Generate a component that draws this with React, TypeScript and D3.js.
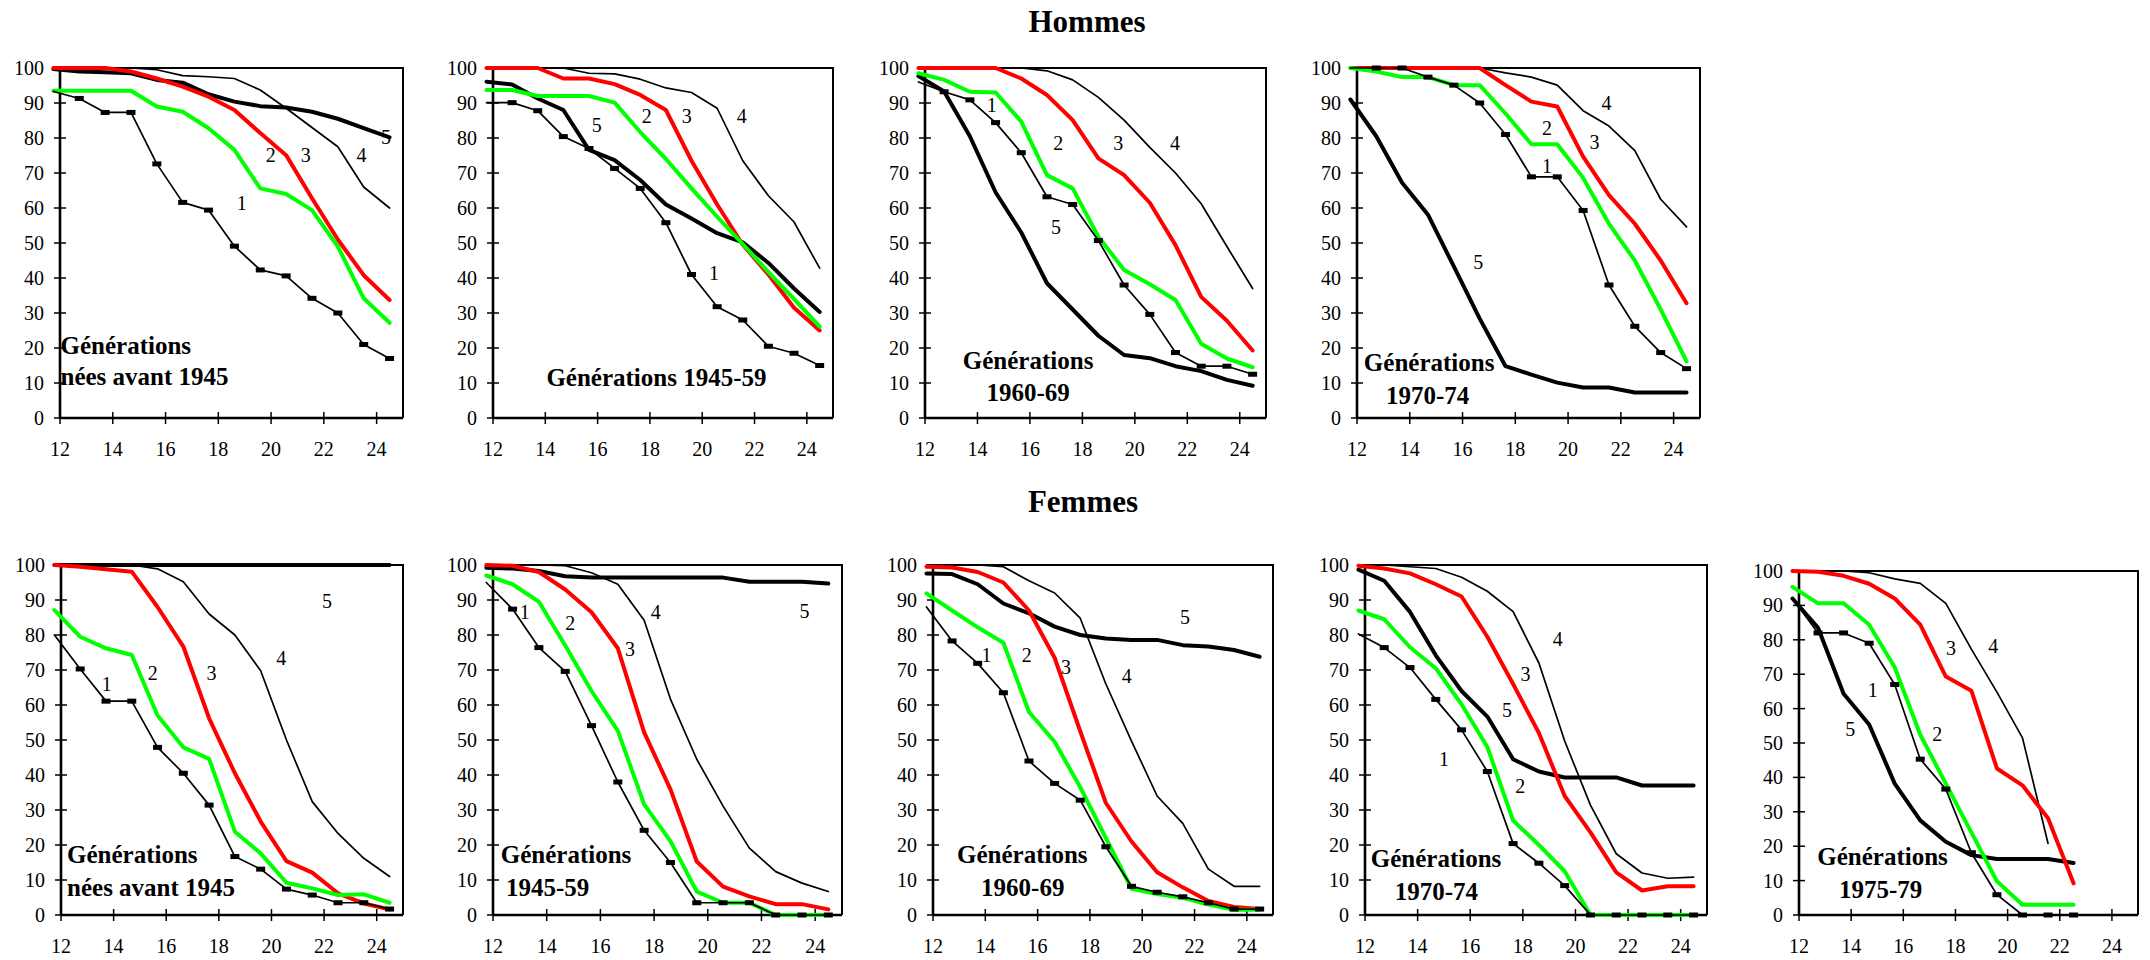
import React from "react";
import * as d3 from "d3";

// ---------- categories / ticks ----------
const AGES = [11.75, 12.73, 13.71, 14.69, 15.67, 16.65, 17.63, 18.61, 19.59, 20.57, 21.55, 22.53, 23.51, 24.49];
const X_TICKS = [12, 14, 16, 18, 20, 22, 24];
const Y_TICKS = [0, 10, 20, 30, 40, 50, 60, 70, 80, 90, 100];
const SERIES_NAMES = ["1", "2", "3", "4", "5"];

// ---------- Hommes, générations nées avant 1945 ----------
const H_A45_1 = [93.3, 91.3, 87.3, 87.3, 72.6, 61.6, 59.4, 49.1, 42.3, 40.6, 34.2, 30, 21, 17];
const H_A45_2 = [93.5, 93.5, 93.5, 93.5, 89, 87.5, 82.8, 76.6, 65.6, 64, 59.4, 49, 34.2, 27.2];
const H_A45_3 = [100, 100, 100, 99, 97, 94.7, 91.8, 88, 81.4, 75.1, 62.8, 51, 40.8, 33.7];
const H_A45_4 = [100, 100, 100, 100, 99.5, 97.8, 97.5, 97, 93.7, 88.5, 83, 77.5, 66, 60];
const H_A45_5 = [99.7, 99, 98.8, 98.5, 96.6, 95.8, 92.5, 90.4, 89.1, 88.7, 87.5, 85.5, 82.8, 80.2];

// ---------- Hommes 1945-59 ----------
const H_4559_1 = [90.1, 90.1, 87.8, 80.4, 77, 71.3, 65.6, 55.8, 41, 31.8, 28, 20.5, 18.5, 15];
const H_4559_2 = [93.7, 93.7, 92, 92, 92, 90.1, 81.7, 74, 65.6, 57.5, 49.7, 41.7, 34, 26.1];
const H_4559_3 = [100, 100, 100, 97, 97, 95.4, 92.3, 88, 73.5, 61, 49.5, 41, 31.5, 25];
const H_4559_4 = [100, 100, 100, 100, 98.5, 98.3, 96.8, 94.3, 93, 88.5, 73.5, 63.5, 56, 42.8];
const H_4559_5 = [96.1, 95.3, 91.3, 88, 76.6, 73.7, 68, 61, 57, 52.8, 50.2, 44.3, 37, 30.3];

// ---------- Hommes 1960-69 ----------
const H_6069_1 = [96, 93.2, 90.9, 84.4, 75.8, 63.2, 61, 50.7, 38, 29.6, 18.7, 14.8, 14.8, 12.5];
const H_6069_2 = [98.5, 96.6, 93.2, 93, 84.7, 69.4, 65.6, 51.8, 42.3, 38.2, 33.7, 21.2, 17, 14.5];
const H_6069_3 = [100, 100, 100, 100, 97, 92.3, 85.1, 74.2, 69.4, 61.5, 49.4, 34.6, 27.8, 19.3];
const H_6069_4 = [100, 100, 100, 100, 100, 99.2, 96.6, 91.6, 85.1, 77.3, 70, 61.2, 49, 37];
const H_6069_5 = [97.7, 93.3, 80.5, 64.5, 53, 38.5, 31, 23.5, 18, 17.1, 14.8, 13.4, 10.9, 9.2];

// ---------- Hommes 1970-74 ----------
const H_7074_1 = [100, 100, 100, 97.4, 95.1, 90, 81, 68.9, 68.9, 59.3, 38, 26.2, 18.7, 14.1];
const H_7074_2 = [100, 99, 97.4, 97.4, 95.1, 95.1, 87, 78.2, 78.2, 68.6, 55.5, 45, 31, 16.2];
const H_7074_3 = [100, 100, 100, 100, 100, 100, 95.1, 90.4, 89, 74.7, 63.7, 55.5, 45, 32.8];
const H_7074_4 = [100, 100, 100, 100, 100, 100, 98.6, 97.4, 95.1, 87.8, 83.4, 76.4, 62.5, 54.6];
const H_7074_5 = [91, 80.5, 67.2, 58.1, 43.3, 28.4, 14.8, 12.4, 10.1, 8.7, 8.7, 7.3, 7.3, 7.3];

// ---------- Femmes, générations nées avant 1945 ----------
const F_A45_1 = [80, 70.3, 61.1, 61.1, 47.9, 40.5, 31.4, 16.7, 13.1, 7.4, 5.7, 3.5, 3.5, 1.7];
const F_A45_2 = [87.1, 79.5, 76.2, 74.3, 57, 47.9, 44.6, 23.8, 17.6, 9.2, 7.6, 5.7, 5.9, 3.5];
const F_A45_3 = [100, 99.5, 98.8, 98.1, 88, 76.7, 56.2, 40.5, 26.7, 15.4, 12.1, 6.2, 3.3, 1.6];
const F_A45_4 = [100, 100, 100, 100, 98.9, 95.2, 86, 80, 69.8, 50, 32.4, 23.3, 16.2, 11];
const F_A45_5 = [100, 100, 100, 100, 100, 100, 100, 100, 100, 100, 100, 100, 100, 100];

// ---------- Femmes 1945-59 ----------
const F_4559_1 = [95, 87.4, 76.4, 69.6, 54.1, 38, 24.2, 15, 3.5, 3.5, 3.5, 0, 0, 0];
const F_4559_2 = [97, 94.5, 89.5, 77, 64, 52.6, 31.6, 21.1, 6.7, 3.5, 3.5, 0, 0, 0];
const F_4559_3 = [100, 99.8, 98, 93, 86.5, 76.2, 52.2, 35.9, 15.3, 8.1, 5.3, 3.1, 3.1, 1.6];
const F_4559_4 = [100, 100, 100, 99.8, 97.8, 94.5, 84.2, 61.7, 44.5, 31.1, 19.1, 12.4, 9.1, 6.7];
const F_4559_5 = [99.2, 99, 98.3, 96.8, 96.4, 96.4, 96.4, 96.4, 96.4, 96.4, 95.2, 95.2, 95.2, 94.7];

// ---------- Femmes 1960-69 ----------
const F_6069_1 = [88, 78.3, 71.9, 63.5, 44, 37.6, 32.8, 19.5, 8.2, 6.5, 5.2, 3.5, 1.7, 1.7];
const F_6069_2 = [91.9, 87, 82.2, 77.8, 58, 49.5, 36.5, 22, 7.5, 6, 4.9, 3, 1.5, 1.5];
const F_6069_3 = [99.5, 99.3, 98, 95, 87, 73.5, 52.5, 32, 21, 12.2, 7.9, 4, 2.3, 1.7];
const F_6069_4 = [100, 100, 100, 99.5, 95.5, 92, 84.8, 66, 49.7, 34, 26.2, 13.1, 8.2, 8.2];
const F_6069_5 = [97.6, 97.4, 94.5, 89, 86.2, 82.4, 80, 79, 78.6, 78.6, 77.1, 76.7, 75.7, 73.8];

// ---------- Femmes 1970-74 ----------
const F_7074_1 = [80.3, 76.4, 70.7, 61.6, 52.9, 41, 20.4, 14.8, 8.4, 0, 0, 0, 0, 0];
const F_7074_2 = [87, 84.5, 76.5, 70.5, 60.2, 48, 27, 20, 12.5, 0, 0, 0, 0, 0];
const F_7074_3 = [99.8, 99, 97.6, 94.5, 91, 79.5, 66, 52, 34, 23.6, 12.2, 7, 8.2, 8.2];
const F_7074_4 = [100, 100, 99.5, 99, 96.5, 92.5, 86.7, 72, 49.7, 31.4, 17.5, 12, 10.5, 10.8];
const F_7074_5 = [98.7, 95.5, 86.6, 74.2, 64, 56.7, 44.5, 41, 39.3, 39.3, 39.3, 37, 37, 37];

// ---------- Femmes 1975-79 ----------
const F_7579_1 = [92, 82, 82, 79, 67, 45.3, 36.6, 18.1, 5.9, 0, 0, 0];
const F_7579_2 = [95.4, 90.6, 90.6, 84.4, 72, 52.4, 38.2, 24, 9.8, 3, 3, 3];
const F_7579_3 = [100, 99.8, 98.6, 96.3, 92, 84.4, 69.3, 65.2, 42.6, 37.7, 28.1, 9.2];
const F_7579_4 = [100, 100, 100, 99.5, 97.7, 96.4, 90.6, 77.3, 64.8, 51.5, 20.8];
const F_7579_5 = [92, 83.5, 64.3, 55.4, 38.2, 27.5, 21.3, 17.4, 16.3, 16.3, 16.3, 15.1];

// ---------- styles ----------
const FONT = '"Liberation Serif", "Times New Roman", Times, serif';
const SERIES_STYLE = [
  { stroke: "#000000", width: 1.7, marker: true },
  { stroke: "#00ff00", width: 4, marker: false },
  { stroke: "#ff0000", width: 4, marker: false },
  { stroke: "#000000", width: 1.7, marker: false },
  { stroke: "#000000", width: 4, marker: false },
];
const DRAW_ORDER = [4, 3, 2, 1, 0];

type Label = { t: string; a: number; v: number };
type Caption = { t: string; a: number; v: number; anchor: "start" | "middle" };
type PanelCfg = {
  key: string;
  box: { x0: number; x1: number; y0: number; y1: number };
  series: number[][];
  labels: Label[];
  captions: Caption[];
};

const PANELS: PanelCfg[] = [
  {
    key: "h_a45",
    box: { x0: 60, x1: 403, y0: 68, y1: 418 },
    series: [H_A45_1, H_A45_2, H_A45_3, H_A45_4, H_A45_5],
    labels: [
      { t: "1", a: 18.89, v: 61.4 }, { t: "2", a: 19.99, v: 75.1 }, { t: "3", a: 21.31, v: 75.1 },
      { t: "4", a: 23.43, v: 75.1 }, { t: "5", a: 24.36, v: 80.3 },
    ],
    captions: [
      { t: "Générations", a: 12.02, v: 18.3, anchor: "start" },
      { t: "nées avant 1945", a: 12.02, v: 9.4, anchor: "start" },
    ],
  },
  {
    key: "h_4559",
    box: { x0: 493, x1: 833, y0: 68, y1: 418 },
    series: [H_4559_1, H_4559_2, H_4559_3, H_4559_4, H_4559_5],
    labels: [
      { t: "5", a: 15.97, v: 83.7 }, { t: "2", a: 17.88, v: 86.3 }, { t: "3", a: 19.41, v: 86.3 },
      { t: "4", a: 21.51, v: 86.3 }, { t: "1", a: 20.45, v: 41.4 },
    ],
    captions: [{ t: "Générations 1945-59", a: 18.25, v: 9.1, anchor: "middle" }],
  },
  {
    key: "h_6069",
    box: { x0: 925, x1: 1266, y0: 68, y1: 418 },
    series: [H_6069_1, H_6069_2, H_6069_3, H_6069_4, H_6069_5],
    labels: [
      { t: "1", a: 14.54, v: 89.4 }, { t: "2", a: 17.08, v: 78.5 }, { t: "3", a: 19.37, v: 78.5 },
      { t: "4", a: 21.53, v: 78.5 }, { t: "5", a: 16.99, v: 54.7 },
    ],
    captions: [
      { t: "Générations", a: 15.93, v: 14, anchor: "middle" },
      { t: "1960-69", a: 15.93, v: 4.9, anchor: "middle" },
    ],
  },
  {
    key: "h_7074",
    box: { x0: 1357, x1: 1700, y0: 68, y1: 418 },
    series: [H_7074_1, H_7074_2, H_7074_3, H_7074_4, H_7074_5],
    labels: [
      { t: "4", a: 21.46, v: 90 }, { t: "2", a: 19.2, v: 83 }, { t: "3", a: 21.0, v: 79 },
      { t: "1", a: 19.2, v: 72 }, { t: "5", a: 16.6, v: 44.7 },
    ],
    captions: [
      { t: "Générations", a: 12.26, v: 13.4, anchor: "start" },
      { t: "1970-74", a: 13.1, v: 4, anchor: "start" },
    ],
  },
  {
    key: "f_a45",
    box: { x0: 61, x1: 403, y0: 565, y1: 915 },
    series: [F_A45_1, F_A45_2, F_A45_3, F_A45_4, F_A45_5],
    labels: [
      { t: "5", a: 22.11, v: 89.8 }, { t: "4", a: 20.37, v: 73.4 }, { t: "3", a: 17.72, v: 69.2 },
      { t: "2", a: 15.49, v: 69.2 }, { t: "1", a: 13.74, v: 65.9 },
    ],
    captions: [
      { t: "Générations", a: 12.23, v: 14.9, anchor: "start" },
      { t: "nées avant 1945", a: 12.23, v: 5.4, anchor: "start" },
    ],
  },
  {
    key: "f_4559",
    box: { x0: 493, x1: 842, y0: 565, y1: 915 },
    series: [F_4559_1, F_4559_2, F_4559_3, F_4559_4, F_4559_5],
    labels: [
      { t: "1", a: 13.18, v: 86.7 }, { t: "2", a: 14.88, v: 83.3 }, { t: "3", a: 17.1, v: 75.9 },
      { t: "4", a: 18.06, v: 86.7 }, { t: "5", a: 23.6, v: 86.9 },
    ],
    captions: [
      { t: "Générations", a: 12.29, v: 14.9, anchor: "start" },
      { t: "1945-59", a: 12.48, v: 5.4, anchor: "start" },
    ],
  },
  {
    key: "f_6069",
    box: { x0: 933, x1: 1273, y0: 565, y1: 915 },
    series: [F_6069_1, F_6069_2, F_6069_3, F_6069_4, F_6069_5],
    labels: [
      { t: "1", a: 14.05, v: 74.3 }, { t: "2", a: 15.58, v: 74.3 }, { t: "3", a: 17.09, v: 70.9 },
      { t: "4", a: 19.41, v: 68.3 }, { t: "5", a: 21.64, v: 85.2 },
    ],
    captions: [
      { t: "Générations", a: 12.92, v: 14.9, anchor: "start" },
      { t: "1960-69", a: 13.84, v: 5.4, anchor: "start" },
    ],
  },
  {
    key: "f_7074",
    box: { x0: 1365, x1: 1707, y0: 565, y1: 915 },
    series: [F_7074_1, F_7074_2, F_7074_3, F_7074_4, F_7074_5],
    labels: [
      { t: "4", a: 19.33, v: 79 }, { t: "3", a: 18.1, v: 68.8 }, { t: "5", a: 17.4, v: 58.6 },
      { t: "1", a: 15.0, v: 44.5 }, { t: "2", a: 17.9, v: 37 },
    ],
    captions: [
      { t: "Générations", a: 12.22, v: 13.8, anchor: "start" },
      { t: "1970-74", a: 13.13, v: 4.4, anchor: "start" },
    ],
  },
  {
    key: "f_7579",
    box: { x0: 1799, x1: 2138, y0: 571, y1: 915 },
    series: [F_7579_1, F_7579_2, F_7579_3, F_7579_4, F_7579_5],
    labels: [
      { t: "3", a: 17.83, v: 77.6 }, { t: "4", a: 19.45, v: 78.1 }, { t: "1", a: 14.83, v: 65.4 },
      { t: "5", a: 13.97, v: 54.2 }, { t: "2", a: 17.3, v: 52.7 },
    ],
    captions: [
      { t: "Générations", a: 12.7, v: 14.6, anchor: "start" },
      { t: "1975-79", a: 13.53, v: 5, anchor: "start" },
    ],
  },
];

const TITLES = [
  { t: "Hommes", x: 1087, y: 32 },
  { t: "Femmes", x: 1083, y: 512 },
];

function Panel({ cfg }: { cfg: PanelCfg }) {
  const { x0, x1, y0, y1 } = cfg.box;
  const x = d3.scaleLinear().domain([12, 25]).range([x0, x1]);
  const y = d3.scaleLinear().domain([0, 100]).range([y1, y0]);
  const line = d3
    .line<number>()
    .x((_, i) => x(AGES[i]))
    .y((d) => y(d));

  return (
    <g>
      <path d={`M${x0},${y0}H${x1}V${y1}`} fill="none" stroke="#000" strokeWidth={2} />
      <line x1={x0} x2={x0} y1={y0} y2={y1} stroke="#000" strokeWidth={2.6} />
      <line x1={x0} x2={x1} y1={y1} y2={y1} stroke="#000" strokeWidth={2.6} />
      {Y_TICKS.map((t) => (
        <g key={"y" + t}>
          <line x1={x0 - 6} x2={x0 + 6} y1={y(t)} y2={y(t)} stroke="#000" strokeWidth={1.5} />
          <text
            x={x0 - 16}
            y={y(t)}
            dy="0.35em"
            textAnchor="end"
            fontFamily={FONT}
            fontSize={20}
            fill="#000"
          >
            {t}
          </text>
        </g>
      ))}
      {X_TICKS.map((t) => (
        <g key={"x" + t}>
          <line x1={x(t)} x2={x(t)} y1={y1 - 6} y2={y1 + 6} stroke="#000" strokeWidth={1.5} />
          <text x={x(t)} y={y1 + 38} textAnchor="middle" fontFamily={FONT} fontSize={20} fill="#000">
            {t}
          </text>
        </g>
      ))}
      {DRAW_ORDER.map((si) => {
        const data = cfg.series[si];
        const st = SERIES_STYLE[si];
        return (
          <g key={"s" + SERIES_NAMES[si]}>
            <path
              d={line(data) || ""}
              fill="none"
              stroke={st.stroke}
              strokeWidth={st.width}
              strokeLinejoin="round"
              strokeLinecap="round"
            />
            {st.marker &&
              data.map((v, i) =>
                i === 0 ? null : (
                  <rect key={i} x={x(AGES[i]) - 4.5} y={y(v) - 2.5} width={9} height={5} fill="#000" />
                )
              )}
          </g>
        );
      })}
      {cfg.labels.map((l, i) => (
        <text
          key={"l" + i}
          x={x(l.a)}
          y={y(l.v)}
          dy="0.35em"
          textAnchor="middle"
          fontFamily={FONT}
          fontSize={20}
          fill="#000"
        >
          {l.t}
        </text>
      ))}
      {cfg.captions.map((c, i) => (
        <text
          key={"c" + i}
          x={x(c.a)}
          y={y(c.v)}
          textAnchor={c.anchor}
          fontFamily={FONT}
          fontWeight="bold"
          fontSize={25}
          fill="#000"
        >
          {c.t}
        </text>
      ))}
    </g>
  );
}

export default function App() {
  return (
    <svg
      width={2150}
      height={960}
      viewBox="0 0 2150 960"
      style={{ position: "absolute", left: 0, top: 0, background: "#fff" }}
    >
      <rect x={0} y={0} width={2150} height={960} fill="#fff" />
      {TITLES.map((t) => (
        <text
          key={t.t}
          x={t.x}
          y={t.y}
          textAnchor="middle"
          fontFamily={FONT}
          fontWeight="bold"
          fontSize={31}
          fill="#000"
        >
          {t.t}
        </text>
      ))}
      {PANELS.map((p) => (
        <Panel key={p.key} cfg={p} />
      ))}
    </svg>
  );
}
